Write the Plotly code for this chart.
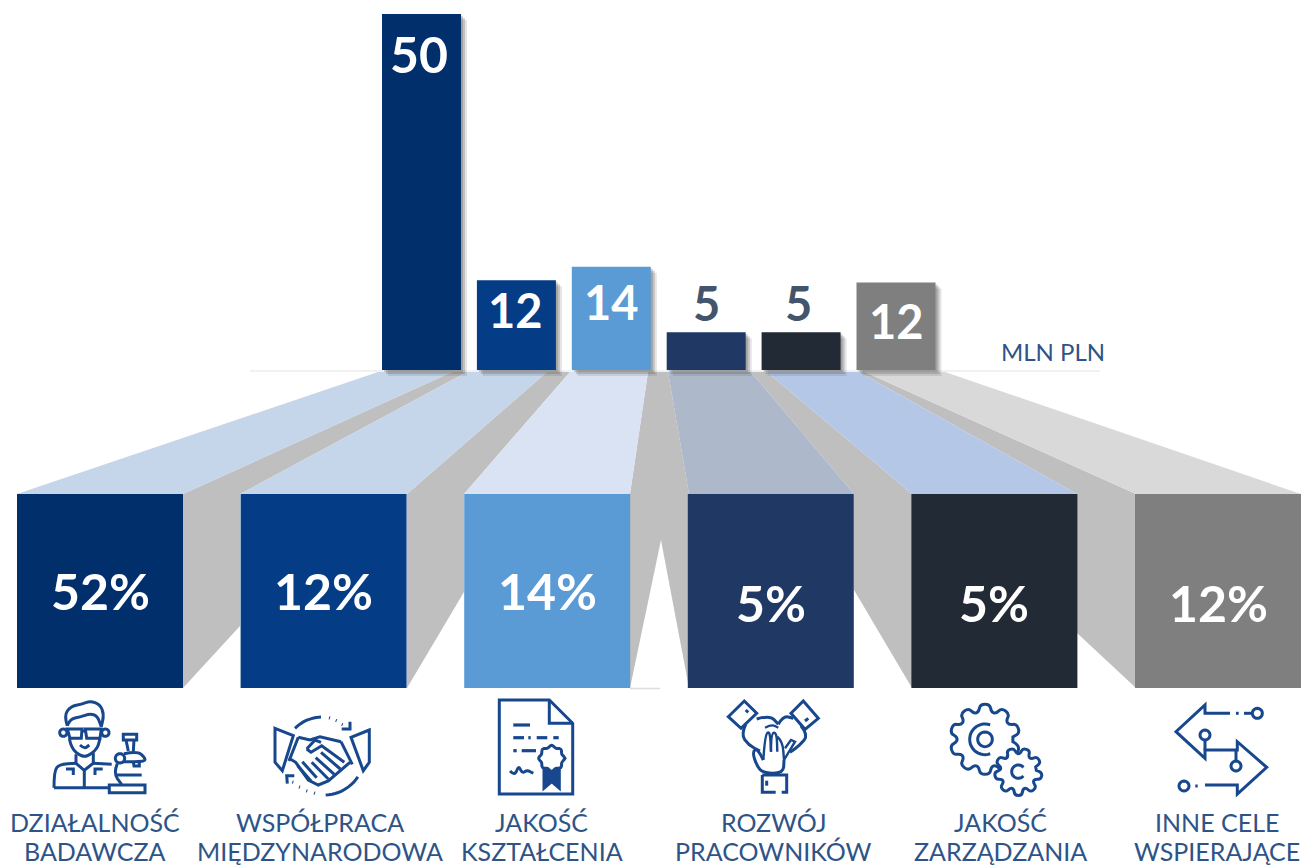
import math
import plotly.graph_objects as go

# ---- data ----
categories = ["DZIAŁALNOŚĆ<br>BADAWCZA", "WSPÓŁPRACA<br>MIĘDZYNARODOWA", "JAKOŚĆ<br>KSZTAŁCENIA",
              "ROZWÓJ<br>PRACOWNIKÓW", "JAKOŚĆ<br>ZARZĄDZANIA", "INNE CELE<br>WSPIERAJĄCE"]
amount_heights = [50, 12.6, 14.5, 5.3, 5.3, 12.3]
amount_labels = ["50", "12", "14", "5", "5", "12"]
share_labels = ["52%", "12%", "14%", "5%", "5%", "12%"]
unit_label = "MLN PLN"

# ---- style ----
W, H = 1304, 866
bar_colors = ["#002f6c", "#043c85", "#5b9bd5", "#1f3864", "#222a35", "#7f7f7f"]
top_faces = ["#c5d5ea", "#c5d5ea", "#dae3f3", "#adb9ca", "#b4c7e7", "#d9d9d9"]
SIDE = "#bfbfbf"
INK = "#17478d"
TEXT = "#2e5487"
FONT = "Lato"
px_per_unit = 7.12
base_px = 370
pad_px = 12
top_c0, top_step, top_w = 421.5, 94.9, 79
low_c0, low_step, low_w = 100, 223.6, 166
low_top, low_bot = 494, 688
label_centres = [94.5, 319.5, 541.5, 773, 1000.5, 1217]

cats = categories
fig = go.Figure()

# amount bars: soft shadow, then bar
for off, alpha in [(6, .14), (4, .22), (2, .25)]:
    fig.add_trace(go.Bar(x=cats, y=amount_heights, base=[-off / px_per_unit] * 6,
                         width=top_w / top_step, offset=-(top_w / 2 - off) / top_step,
                         marker=dict(color=f"rgba(70,70,70,{alpha})", line_width=0),
                         xaxis="x2", yaxis="y2", hoverinfo="skip", showlegend=False))
fig.add_trace(go.Bar(x=cats, y=amount_heights, width=top_w / top_step,
                     marker=dict(color=bar_colors, line_width=0),
                     xaxis="x2", yaxis="y2", hoverinfo="skip", showlegend=False))
# share boxes (all equally tall)
fig.add_trace(go.Bar(x=cats, y=[1] * 6, width=low_w / low_step,
                     marker=dict(color=bar_colors, line_width=0),
                     xaxis="x3", yaxis="y3", hoverinfo="skip", showlegend=False))

shapes, annos = [], []


def poly(pts, fill):
    d = "M " + " L ".join(f"{x},{y}" for x, y in pts) + " Z"
    shapes.append(dict(type="path", path=d, fillcolor=fill, line_width=0, xref="x", yref="y", layer="below"))


# perspective: side walls, then top faces
T = 372
for pts in [
    [(183, 494), (452, T), (467, T), (240, 494), (240, 626), (183, 688)],
    [(407, 494), (547, T), (570, T), (464, 494), (464, 592), (407, 688)],
    [(630, 494), (648, T), (668, T), (689, 494), (689, 688), (661, 540), (630, 688)],
    [(854, 494), (751, T), (767, T), (912, 494), (912, 688), (854, 590)],
    [(1077, 494), (859, T), (865, T), (1136, 494), (1136, 688), (1077, 633)],
]:
    poly(pts, SIDE)
poly([(17, 494), (183, 494), (452, T), (378, T)], top_faces[0])
poly([(240, 494), (407, 494), (547, T), (467, T)], top_faces[1])
poly([(464, 494), (630, 494), (648, T), (570, T)], top_faces[2])
poly([(689, 494), (854, 494), (751, T), (668, T)], top_faces[3])
poly([(912, 494), (1077, 494), (859, T), (767, T)], top_faces[4])
poly([(1136, 494), (1301, 494), (945, T), (865, T)], top_faces[5])
shapes.append(dict(type="line", x0=250, x1=1100, y0=371, y1=371, xref="x", yref="y", layer="below",
                   line=dict(color="#ececec", width=1.5)))
shapes.append(dict(type="line", x0=630, x1=660, y0=688.5, y1=688.5, xref="x", yref="y", layer="below",
                   line=dict(color="#dddddd", width=1.5)))


# ---- icons: decoration drawn in zoom-crop coordinates ----
def stroke(pts, ox, oy, closed=False, fill=None, smooth=False, w=3, s=1 / 3):
    p = [(ox + x * s, oy + y * s) for x, y in pts]
    if smooth and len(p) > 2:
        d = f"M {p[0][0]:.1f},{p[0][1]:.1f}"
        for i in range(1, len(p) - 1):
            mx, my = (p[i][0] + p[i + 1][0]) / 2, (p[i][1] + p[i + 1][1]) / 2
            d += f" Q {p[i][0]:.1f},{p[i][1]:.1f} {mx:.1f},{my:.1f}"
        d += f" L {p[-1][0]:.1f},{p[-1][1]:.1f}"
    else:
        d = "M " + " L ".join(f"{x:.1f},{y:.1f}" for x, y in p)
    if closed:
        d += " Z"
    shapes.append(dict(type="path", path=d, xref="x", yref="y", layer="above",
                       line=dict(color=INK, width=w), fillcolor=fill or "rgba(0,0,0,0)"))


def arc(cx, cy, r, a0, a1, n=24):
    return [(cx + r * math.cos(math.radians(a0 + (a1 - a0) * i / n)),
             cy + r * math.sin(math.radians(a0 + (a1 - a0) * i / n))) for i in range(n + 1)]


def circle(cx, cy, r, ox, oy, **k):
    stroke(arc(cx, cy, r, 0, 360), ox, oy, closed=True, **k)


def gear(cx, cy, ro, ri, teeth, rot=0):
    pts = []
    st = 360 / teeth
    for i in range(teeth):
        a = rot + i * st
        for da, r in [(-.36, ri), (-.22, ro), (.22, ro), (.36, ri)]:
            t = math.radians(a + da * st)
            pts.append((cx + r * math.cos(t), cy + r * math.sin(t)))
    return pts


# 1 scientist + microscope
o = (40, 695)
stroke([(82, 92), (72, 62), (92, 34), (125, 28), (150, 18), (180, 28), (192, 58), (184, 95)], *o, smooth=True)
stroke([(82, 92), (90, 72), (120, 66), (150, 56), (172, 62), (184, 95)], *o, smooth=True)
stroke([(82, 102), (126, 102), (124, 130), (90, 130)], *o, closed=True)
stroke([(136, 102), (184, 102), (180, 130), (140, 130)], *o, closed=True)
stroke([(126, 108), (136, 108)], *o)
circle(70, 113, 11, *o)
circle(196, 113, 11, *o)
stroke([(88, 130), (94, 162), (125, 184), (142, 184), (172, 162), (180, 130)], *o, smooth=True)
stroke([(120, 150), (133, 162), (148, 150)], *o, smooth=True)
stroke([(108, 178), (108, 205), (133, 226), (160, 205), (160, 174)], *o)
stroke([(42, 278), (42, 228), (58, 208), (108, 205)], *o, smooth=True)
stroke([(160, 205), (215, 208)], *o)
stroke([(42, 278), (208, 278)], *o)
stroke([(133, 226), (133, 278)], *o)
stroke([(78, 222), (100, 222), (100, 240)], *o)
stroke([(188, 222), (165, 222), (165, 240)], *o)
stroke([(250, 118), (290, 118), (290, 135), (250, 135)], *o, closed=True)
stroke([(258, 135), (265, 168)], *o)
stroke([(282, 135), (280, 168)], *o)
stroke([(252, 176), (292, 168), (315, 188), (315, 200), (250, 200)], *o, smooth=True)
stroke([(280, 200), (282, 213), (298, 213), (298, 200)], *o)
circle(240, 190, 14, *o)
stroke([(232, 206), (220, 235), (245, 268)], *o, smooth=True)
stroke([(230, 240), (305, 240)], *o)
stroke([(208, 270), (315, 270), (315, 293), (208, 293)], *o, closed=True)

# 2 handshake
o = (265, 705)
stroke([(30, 70), (85, 92), (52, 197), (30, 172)], *o, closed=True)
stroke([(313, 75), (258, 97), (295, 197), (313, 172)], *o, closed=True)
stroke([(100, 97), (135, 105), (165, 95), (228, 110)], *o)
stroke([(100, 97), (72, 168)], *o)
stroke([(228, 110), (262, 178)], *o)
stroke([(125, 132), (150, 105), (168, 112)], *o)
stroke([(125, 132), (138, 142), (170, 122), (238, 172)], *o)
stroke([(72, 160), (92, 172), (130, 225), (160, 240), (190, 228), (255, 172)], *o)
for a, b in [((168, 142), (226, 192)), ((152, 158), (208, 208)), ((140, 172), (190, 222)),
             ((112, 170), (155, 218)), ((98, 182), (138, 228))]:
    stroke([a, b], *o)
stroke(arc(172, 152, 116, -135, -92, 12), *o)
for d in [(192, 38), (212, 46), (230, 58)]:
    stroke([d, (d[0] + 3, d[1] + 1)], *o)
stroke([(255, 50), (255, 72), (230, 72)], *o)
stroke(arc(178, 150, 120, 33, 88, 12), *o)
for d in [(150, 265), (127, 258), (105, 247), (85, 232)]:
    stroke([d, (d[0] - 3, d[1] - 1)], *o)
stroke([(88, 212), (65, 212), (67, 236)], *o)

# 3 document
o = (450, 690)
stroke([(148, 30), (298, 30), (368, 100), (368, 312), (148, 312)], *o, closed=True, w=3)
stroke([(298, 30), (298, 100), (368, 100)], *o, w=3)
for a, b in [(190, 240), ]:
    stroke([(a, 105), (b, 105)], *o, w=3.2)
for a, b in [(190, 222), (235, 242), (260, 292), (310, 326)]:
    stroke([(a, 143), (b, 143)], *o, w=3.2)
for a, b in [(190, 200), (215, 258)]:
    stroke([(a, 182), (b, 182)], *o, w=3.2)
ros = []
for i in range(32):
    t = math.radians(i * 360 / 32)
    r = 36 + 4 * math.cos(8 * t)
    ros.append((305 + r * math.cos(t), 205 + r * math.sin(t)))
stroke(ros, *o, closed=True, smooth=True)
stroke([(282, 240), (282, 295), (305, 275), (328, 295), (328, 238), (305, 247)], *o, closed=True, fill=INK)
stroke([(180, 243), (194, 258), (206, 226), (216, 250), (232, 240), (250, 250)], *o, smooth=True, w=3)

# 4 hands
o = (715, 695)
stroke([(40, 65), (88, 18), (125, 55), (78, 100)], *o, closed=True)
stroke([(228, 55), (265, 18), (310, 70), (270, 103)], *o, closed=True)
stroke([(92, 45), (100, 52)], *o)
stroke([(270, 78), (280, 70)], *o)
stroke([(92, 88), (78, 118), (100, 150), (135, 168)], *o, smooth=True)
stroke([(125, 72), (165, 60), (190, 88)], *o, smooth=True)
stroke([(190, 88), (205, 62), (235, 70)], *o, smooth=True)
stroke([(258, 92), (280, 120), (255, 150), (225, 172)], *o, smooth=True)
stroke([(150, 98), (170, 88), (190, 98)], *o, smooth=True, w=2.4)
stroke([(145, 195), (150, 118), (165, 108), (168, 170)], *o, smooth=True, w=2.4)
stroke([(168, 170), (168, 115), (185, 112), (187, 170)], *o, smooth=True, w=2.4)
stroke([(187, 125), (203, 140), (207, 195)], *o, smooth=True, w=2.4)
stroke([(207, 195), (240, 140), (228, 135), (210, 160)], *o, w=2.4)
stroke([(145, 195), (128, 160), (112, 170), (125, 212), (145, 235), (205, 235), (207, 195)], *o, smooth=True)
stroke([(142, 240), (142, 292), (182, 292)], *o)
stroke([(200, 292), (215, 292), (215, 240), (142, 240)], *o)
stroke([(155, 257), (155, 272)], *o)

# 5 gears
o = (880, 690)
stroke(gear(315, 148, 106, 84, 10, 18), *o, closed=True, smooth=True)
circle(315, 148, 22, *o)
stroke(arc(315, 148, 46, 70, 290), *o)
stroke(gear(415, 245, 72, 54, 9, 10), *o, closed=True, smooth=True, fill="white")
stroke(arc(415, 245, 20, 40, 320), *o)

# 6 arrows
o = (880, 690)
stroke([(1050, 70), (975, 70), (975, 45), (888, 125), (975, 205), (975, 180), (1072, 180), (1072, 155),
        (1160, 232), (1072, 312), (1072, 285), (975, 285)], *o)
for a, b in [(1068, 1076), (1092, 1116)]:
    stroke([(a, 70), (b, 70)], *o)
circle(1132, 70, 15, *o)
circle(975, 135, 15, *o)
stroke([(975, 150), (975, 180)], *o)
circle(1068, 228, 15, *o)
stroke([(1068, 180), (1068, 213)], *o)
circle(912, 288, 15, *o)
stroke([(946, 288), (953, 288)], *o)

# ---- text, anchored on the bars through their axes ----
amount_shift = [-40, -30, -35, 29, 29, -39]  # px from bar top to label centre (up is positive)
amount_xshift = [-3, -1, 0, 0, -3, 0]
amount_color = ["white", "white", "white", "#44546a", "#44546a", "white"]
for i, t in enumerate(amount_labels):
    annos.append(dict(x=i, y=amount_heights[i], xref="x2", yref="y2", text=f"<b>{t}</b>", showarrow=False,
                      yshift=amount_shift[i], xshift=amount_xshift[i], yanchor="middle",
                      font=dict(family=FONT, size=50 if i == 0 else 47, color=amount_color[i])))
share_shift = [0, 0, 0, -12, -12, -12]
for i, t in enumerate(share_labels):
    annos.append(dict(x=i, y=0.5, xref="x3", yref="y3", text=f"<b>{t}</b>", showarrow=False, yshift=share_shift[i],
                      font=dict(family=FONT, size=50, color="white")))
for i, t in enumerate(categories):
    a, b = t.split("<br>")
    for txt, py in [(a, 822), (b, 850.5)]:
        annos.append(dict(x=label_centres[i], y=py, xref="x", yref="y", text=txt, showarrow=False,
                          font=dict(family=FONT, size=25, color=TEXT)))
annos.append(dict(x=1053, y=351, xref="x", yref="y", text=unit_label, showarrow=False,
                  font=dict(family=FONT, size=24, color=TEXT)))

hidden = dict(visible=False, fixedrange=True)
fig.update_layout(
    width=W, height=H, margin=dict(l=0, r=0, t=0, b=0), paper_bgcolor="white", plot_bgcolor="rgba(0,0,0,0)",
    barmode="overlay", showlegend=False, shapes=shapes, annotations=annos,
    xaxis=dict(range=[0, W], domain=[0, 1], **hidden),
    yaxis=dict(range=[H, 0], domain=[0, 1], **hidden),
    xaxis2=dict(type="category", categoryorder="array", categoryarray=cats, anchor="y2", domain=[0, 1],
                range=[-top_c0 / top_step, (W - top_c0) / top_step], **hidden),
    yaxis2=dict(anchor="x2", domain=[(H - base_px - pad_px) / H, 1],
                range=[-pad_px / px_per_unit, base_px / px_per_unit], **hidden),
    xaxis3=dict(type="category", categoryorder="array", categoryarray=cats, anchor="y3", domain=[0, 1],
                range=[-low_c0 / low_step, (W - low_c0) / low_step], **hidden),
    yaxis3=dict(anchor="x3", domain=[(H - low_bot) / H, (H - low_top) / H], range=[0, 1], **hidden),
)
fig.write_html("out.html", post_script="document.body.style.margin='0';document.body.style.overflow='hidden';",
               config=dict(displayModeBar=False))
